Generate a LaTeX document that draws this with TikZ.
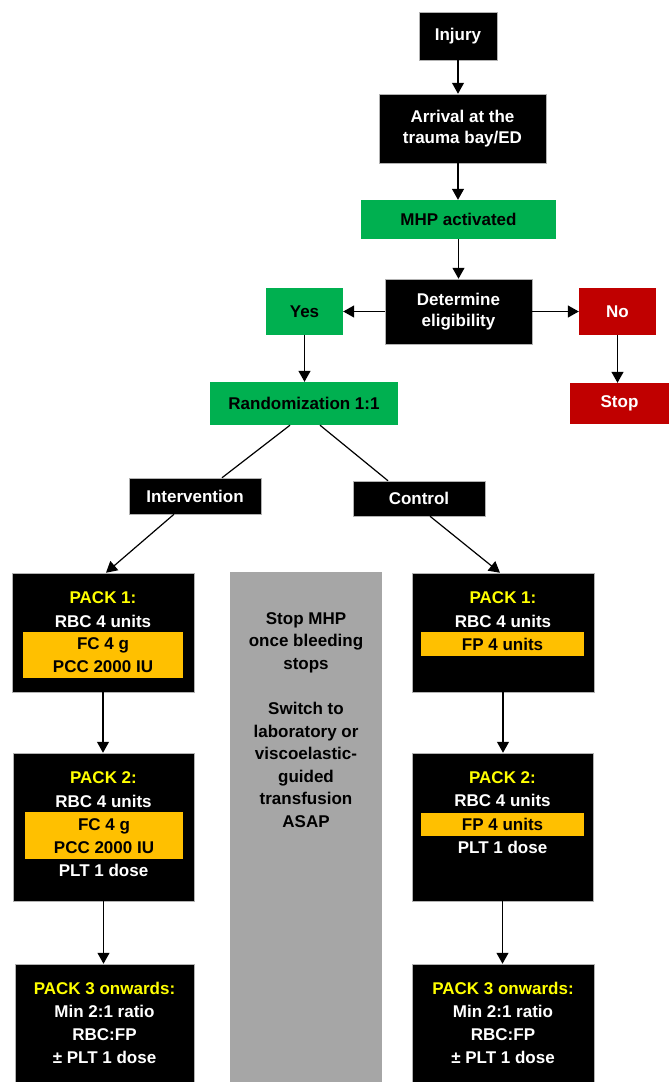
\documentclass[tikz,border=0pt]{standalone}
\usepackage{fontspec}
\setmainfont{Liberation Sans}
\usetikzlibrary{arrows.meta}
\usetikzlibrary{calc}
\definecolor[named]{MHPGreen}{RGB}{0,176,80}
\definecolor[named]{StopRed}{RGB}{192,0,0}
\definecolor[named]{PackOrange}{RGB}{255,192,0}
\definecolor[named]{PackYellow}{RGB}{255,255,0}
\colorlet{notebg}{black!35}
\newcommand{\boxfont}{\bfseries\fontsize{17}{20.5}\selectfont}
\newcommand{\packfont}{\bfseries\fontsize{17}{23}\selectfont}
\tikzset{
  sz/.style 2 args={minimum width=#1pt,minimum height=#2pt},
  box/.style={rectangle,inner sep=0pt,align=center,font=\boxfont},
  blackbox/.style={box,fill=black,text=white,draw=black!30,line width=0.5pt},
  greenbox/.style={box,fill=MHPGreen,text=black},
  redbox/.style={box,fill=StopRed,text=white},
  orangebar/.style={box,fill=PackOrange,text=black,font=\packfont,
    text height=12pt,text depth=0pt},
  packtxt/.style={inner sep=0pt,anchor=base,text=white,font=\packfont},
  packhead/.style={packtxt,text=PackYellow},
  link/.style={line width=1.2pt},
  arr/.style={link,-{Triangle[width=12pt,length=11pt]}}
}

\begin{document}
\begin{tikzpicture}[x=1pt,y=-1pt]
  \useasboundingbox (0,0) rectangle (669,1082);
  % top of the flow
  \node[blackbox,sz={78}{48}] (injury) at (458,36) {Injury};
  \node[blackbox,sz={167}{69}] (arrival) at (462.5,128.5) {Arrival at the\\trauma bay/ED};
  \node[greenbox,sz={195}{39}] (mhp) at (458.5,219.5) {MHP activated};
  \node[blackbox,sz={147}{65}] (determine) at (458.5,311.5) {Determine\\eligibility};
  \node[greenbox,sz={77}{47}] (yes) at (304.5,311.5) {Yes};
  \node[redbox,sz={77}{47}] (no) at (617.5,311.5) {No};
  \node[greenbox,sz={188}{43}] (rand) at (304,403.5) {Randomization 1:1};
  \node[redbox,sz={99}{41}] (stop) at (619.5,403.5) {Stop};
  \node[blackbox,sz={132}{36}] (interv) at (195,496) {Intervention};
  \node[blackbox,sz={132}{35}] (control) at (419,498.5) {Control};

  % packs and note
  \node[blackbox,sz={182}{119}] (packLa) at (103,632.5) {};
  \node[blackbox,sz={182}{119}] (packRa) at (503,632.5) {};
  \node[blackbox,sz={181}{148}] (packLb) at (103.5,827) {};
  \node[blackbox,sz={181}{148}] (packRb) at (502.5,827) {};
  \node[blackbox,sz={179}{118}] (packLc) at (104.5,1023) {};
  \node[blackbox,sz={182}{118}] (packRc) at (503,1023) {};
  \node[box,fill=notebg,sz={152}{510},font=\packfont] (note) at (306,827) {};
  \node[box,font=\bfseries\fontsize{17}{22.6}\selectfont] (notetxt) at (306,720)
    {Stop MHP\\once bleeding\\stops\\[22.6pt]Switch to\\laboratory or\\viscoelastic-\\guided\\transfusion\\ASAP};

  % PACK 1
  \node[packhead] (hLa) at (103,603) {PACK 1:};
  \node[packtxt] (rLa) at (103,627) {RBC 4 units};
  \node[orangebar,sz={160}{23}] (fcLa) at (103,643.5) {FC 4 g};
  \node[orangebar,sz={160}{23}] (pccLa) at (103,666.5) {PCC 2000 IU};
  \node[packhead] (hRa) at (503,603) {PACK 1:};
  \node[packtxt] (rRa) at (503,627) {RBC 4 units};
  \node[orangebar,sz={163}{24}] (fpRa) at (502.5,644) {FP 4 units};

  % PACK 2
  \node[packhead] (hLb) at (103.5,783) {PACK 2:};
  \node[packtxt] (rLb) at (103.5,807) {RBC 4 units};
  \node[orangebar,sz={158}{24}] (fcLb) at (104,824) {FC 4 g};
  \node[orangebar,sz={158}{23}] (pccLb) at (104,847.5) {PCC 2000 IU};
  \node[packtxt] (pLb) at (103.5,876) {PLT 1 dose};
  \node[packhead] (hRb) at (502.5,783) {PACK 2:};
  \node[packtxt] (rRb) at (502.5,806) {RBC 4 units};
  \node[orangebar,sz={163}{23}] (fpRb) at (502.5,824.5) {FP 4 units};
  \node[packtxt] (pRb) at (502.5,853) {PLT 1 dose};

  % PACK 3
  \node[packhead] (hLc) at (104.5,994) {PACK 3 onwards:};
  \node[packtxt] (mLc) at (104.5,1017) {Min 2:1 ratio};
  \node[packtxt] (rLc) at (104.5,1040) {RBC:FP};
  \node[packtxt] (pLc) at (104.5,1063) {\textpm\ PLT 1 dose};
  \node[packhead] (hRc) at (503,994) {PACK 3 onwards:};
  \node[packtxt] (mRc) at (503,1017) {Min 2:1 ratio};
  \node[packtxt] (rRc) at (503,1040) {RBC:FP};
  \node[packtxt] (pRc) at (503,1063) {\textpm\ PLT 1 dose};

  % connectors
  \draw[arr] (injury.south) -- (injury.south |- arrival.north);
  \draw[arr] (arrival.south -| injury.south) -- (injury.south |- mhp.north);
  \draw[arr] (mhp.south) -- (mhp.south |- determine.north);
  \draw[arr] (determine.west) -- (yes.east);
  \draw[arr] (determine.east) -- (no.west);
  \draw[arr] (yes.south) -- (yes.south |- rand.north);
  \draw[arr] (no.south) -- (no.south |- stop.north);
  \draw[link] ([xshift=-14pt]rand.south) -- ([xshift=27pt]interv.north);
  \draw[link] ([xshift=16pt]rand.south) -- ([xshift=-31pt]control.north);
  \draw[arr] ([xshift=-21pt]interv.south) -- ([xshift=3pt]packLa.north);
  \draw[arr] ([xshift=11pt]control.south) -- ([xshift=-3pt]packRa.north);
  \draw[arr] (packLa.south) -- (packLa.south |- packLb.north);
  \draw[arr] (packLb.south) -- (packLb.south |- packLc.north);
  \draw[arr] (packRa.south) -- (packRa.south |- packRb.north);
  \draw[arr] (packRb.south) -- (packRb.south |- packRc.north);
\end{tikzpicture}
\end{document}
